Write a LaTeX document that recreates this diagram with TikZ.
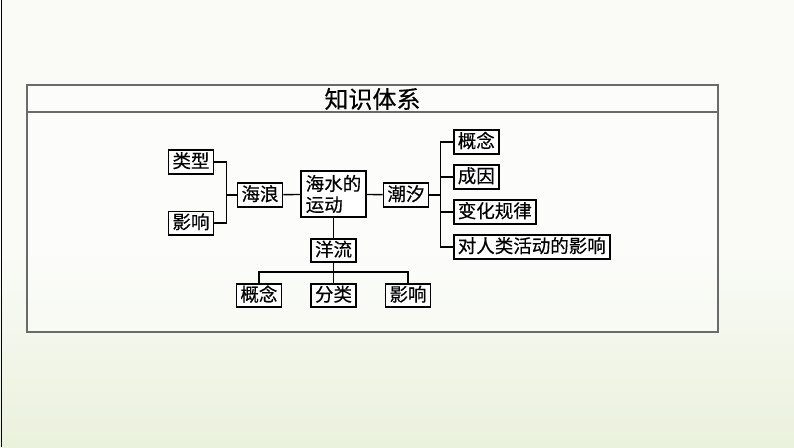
\documentclass[tikz,border=0pt]{standalone}
\usepackage{fontspec}
\newfontfamily\cjk[FakeBold=0.4]{Noto Sans CJK SC}
\usetikzlibrary{positioning, calc}
\definecolor{framegray}{HTML}{6A6A6A}
\definecolor{paper}{HTML}{FAFBF7}
\definecolor{leafbg}{HTML}{EAF1DC}

\begin{document}
\begin{tikzpicture}[
    every node/.style={font=\cjk\fontsize{18.5pt}{21pt}\selectfont},
    box/.style={rectangle, draw=black, fill=white, line width=1.6pt,
                text height=15pt, text depth=3.5pt,
                inner xsep=4pt, inner ysep=2.5pt},
    conn/.style={line width=1.4pt},
    frame/.style={draw=framegray, line width=1.4pt},
    title/.style={font=\cjk\fontsize{24pt}{26pt}\selectfont}
]
    % page and background
    \useasboundingbox (0,0) rectangle (794pt,-447pt);
    \fill[paper] (0,0) rectangle (794pt,-447pt);
    \shade[top color=paper, bottom color=leafbg] (0,-250pt) rectangle (794pt,-447pt);
    \draw[line width=1pt] (1.5pt,0) -- (1.5pt,-447pt);

    % frame with title bar
    \draw[frame, fill=white, fill opacity=0.4] (27pt,-85pt) rectangle (718pt,-332pt);
    \draw[frame] (27pt,-112pt) -- (718pt,-112pt);
    \node[title] (head) at (372.5pt,-99pt) {知识体系};

    % centre and first level
    \node[box, align=left, text height=, text depth=, minimum width=65pt,
          minimum height=46pt] (water) at (333.5pt,-194pt) {海水的\\运动};
    \node[box] (wave) at (260pt,-195pt) {海浪};
    \node[box] (tide) at (406pt,-195pt) {潮汐};
    \node[box] (current) at (333.5pt,-250.5pt) {洋流};

    % waves
    \node[box] (wtype) at (191pt,-162pt) {类型};
    \node[box, below=36pt of wtype] (wimpact) {影响};

    % tides
    \node[box, anchor=west] (tc1) at (453pt,-142pt) {概念};
    \node[box, anchor=west] (tc2) at (453pt,-177pt) {成因};
    \node[box, anchor=west] (tc3) at (453pt,-212pt) {变化规律};
    \node[box, anchor=west] (tc4) at (453pt,-247pt) {对人类活动的影响};

    % currents
    \node[box] (cc2) at (333.5pt,-295.5pt) {分类};
    \node[box, left=28pt of cc2] (cc1) {概念};
    \node[box, right=28pt of cc2] (cc3) {影响};

    % connectors
    \coordinate (wjoin) at ($(wave.west)+(-10pt,0)$);
    \coordinate (tjoin) at ($(tide.east)+(11pt,0)$);
    \coordinate (cbar) at ($(current.south)+(0,-9pt)$);

    \draw[conn] (wave) -- (water);
    \draw[conn] (water) -- (tide);
    \draw[conn] (water) -- (current);

    \draw[conn] (wtype.east) -| (wjoin) |- (wimpact.east);
    \draw[conn] (wjoin) -- (wave);

    \draw[conn] (tide) -- (tjoin);
    \draw[conn] (tjoin |- tc1.west) -- (tjoin |- tc4.west);
    \foreach \n in {tc1, tc2, tc3, tc4}
        \draw[conn] (tjoin |- \n.west) -- (\n.west);

    \draw[conn] (current) -- (cbar);
    \draw[conn] (cc1.north) |- (cbar) -| (cc3.north);
    \draw[conn] (cbar) -- (cc2.north);
\end{tikzpicture}
\end{document}
